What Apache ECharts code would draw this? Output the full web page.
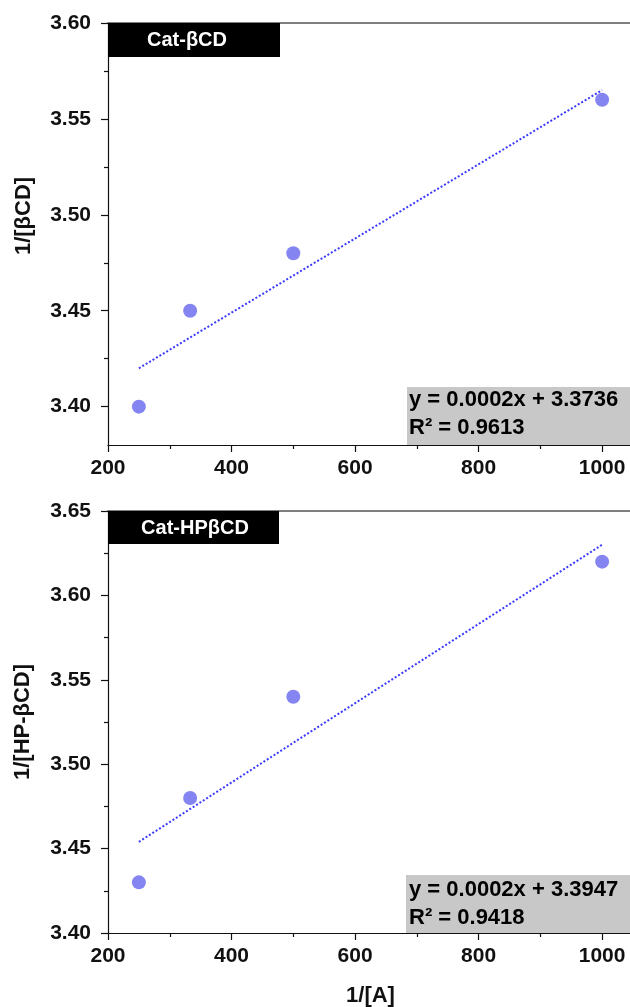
<!DOCTYPE html>
<html>
<head>
<meta charset="utf-8">
<script src="https://cdn.jsdelivr.net/npm/echarts@6/dist/echarts.min.js"></script>
<style>
  html, body { margin: 0; padding: 0; background: #fff; }
  #chart { width: 630px; height: 1007px; }
</style>
</head>
<body>
<div id="chart"></div>
<script>
// data
const xValues = [250, 333, 500, 1000];
const betaCD = [3.40, 3.45, 3.48, 3.56];
const hpBetaCD = [3.43, 3.48, 3.54, 3.62];
// trend line ends (x, y) as drawn
const betaFit = [[250, 3.420], [1000, 3.565]];
const hpFit = [[250, 3.454], [1000, 3.630]];
const topTicks = [3.40, 3.45, 3.50, 3.55, 3.60];
const topMinor = [3.425, 3.475, 3.525, 3.575];
const panelTitles = ['Cat-\u03b2CD', 'Cat-HP\u03b2CD'];
const equations = ['y = 0.0002x + 3.3736\nR\u00b2 = 0.9613', 'y = 0.0002x + 3.3947\nR\u00b2 = 0.9418'];

const FONT = "'Liberation Sans', Arial, sans-serif";
const pointColor = '#8585f2';
const lineColor = '#3a3aff';

const chart = echarts.init(document.getElementById('chart'));

function pairs(ys) {
  return xValues.map((x, i) => [x, ys[i]]);
}

const tickLabel = { fontFamily: FONT, fontWeight: 'bold', fontSize: 21, color: '#111' };

function xAxisBottom(grid) {
  return {
    gridIndex: grid, type: 'value', min: 200, max: 1050, interval: 200,
    axisLine: { lineStyle: { color: '#111', width: 1.2 } },
    axisTick: { inside: false, length: 7, lineStyle: { color: '#111', width: 1.2 } },
    minorTick: { show: true, splitNumber: 2, length: 4, lineStyle: { color: '#111', width: 1.2 } },
    axisLabel: Object.assign({ margin: 13, showMaxLabel: false, formatter: v => String(v) }, tickLabel),
    splitLine: { show: false }
  };
}
function xAxisTop(grid) {
  return {
    gridIndex: grid, type: 'value', position: 'top', min: 200, max: 1050,
    axisLine: { onZero: false, lineStyle: { color: '#555', width: 1.6 } },
    axisTick: { show: false }, axisLabel: { show: false }, splitLine: { show: false }
  };
}

let option = {
  animation: false,
  grid: [
    { left: 108, top: 23, width: 525, height: 422, outerBoundsMode: 'none', containLabel: false },
    { left: 108, top: 511, width: 525, height: 422, outerBoundsMode: 'none', containLabel: false }
  ],
  xAxis: [
    xAxisBottom(0), xAxisTop(0),
    Object.assign(xAxisBottom(1), {
      name: '1/[A]', nameLocation: 'middle', nameGap: 52,
      nameTextStyle: { fontFamily: FONT, fontWeight: 'bold', fontSize: 22, color: '#111' }
    }),
    xAxisTop(1)
  ],
  yAxis: [
    {
      gridIndex: 0, type: 'value', min: 3.38, max: 3.60,
      axisLine: { show: true, lineStyle: { color: '#111', width: 1.2 } },
      axisTick: { show: true, length: 7, customValues: topTicks, lineStyle: { color: '#111', width: 1.2 } },
      axisLabel: Object.assign({ margin: 17, customValues: topTicks, formatter: v => v.toFixed(2) }, tickLabel),
      splitLine: { show: false }
    },
    {
      gridIndex: 0, type: 'value', min: 3.38, max: 3.60, position: 'left',
      axisLine: { show: false },
      axisTick: { show: true, length: 4, customValues: topMinor, lineStyle: { color: '#111', width: 1.2 } },
      axisLabel: { show: false, customValues: topMinor },
      splitLine: { show: false }
    },
    {
      gridIndex: 1, type: 'value', min: 3.40, max: 3.65, interval: 0.05,
      name: '1/[HP-\u03b2CD]', nameLocation: 'middle', nameGap: 74,
      nameTextStyle: { fontFamily: FONT, fontWeight: 'bold', fontSize: 22, color: '#111' },
      axisLine: { show: true, lineStyle: { color: '#111', width: 1.2 } },
      axisTick: { show: true, length: 7, lineStyle: { color: '#111', width: 1.2 } },
      minorTick: { show: true, splitNumber: 2, length: 4, lineStyle: { color: '#111', width: 1.2 } },
      axisLabel: Object.assign({ margin: 17, formatter: v => v.toFixed(2) }, tickLabel),
      splitLine: { show: false }
    }
  ],
  series: [
    {
      type: 'line', xAxisIndex: 0, yAxisIndex: 0, data: betaFit, symbol: 'none',
      lineStyle: { color: lineColor, width: 2, type: [2, 2] }, z: 3
    },
    {
      type: 'scatter', xAxisIndex: 0, yAxisIndex: 0, data: pairs(betaCD),
      symbolSize: 14, itemStyle: { color: pointColor, opacity: 1 }, z: 4
    },
    {
      type: 'line', xAxisIndex: 2, yAxisIndex: 2, data: hpFit, symbol: 'none',
      lineStyle: { color: lineColor, width: 2, type: [2, 2] }, z: 3
    },
    {
      type: 'scatter', xAxisIndex: 2, yAxisIndex: 2, data: pairs(hpBetaCD),
      symbolSize: 14, itemStyle: { color: pointColor, opacity: 1 }, z: 4
    }
  ],
  graphic: [
    // title boxes
    { type: 'rect', shape: { x: 108, y: 23, width: 172, height: 34 }, style: { fill: '#000' }, z: 10 },
    { type: 'text', x: 187, y: 40, style: { text: panelTitles[0], fill: '#fff', font: 'bold 20px ' + FONT, align: 'center', verticalAlign: 'middle' }, z: 11 },
    { type: 'rect', shape: { x: 108, y: 511, width: 171, height: 33 }, style: { fill: '#000' }, z: 10 },
    { type: 'text', x: 195, y: 528, style: { text: panelTitles[1], fill: '#fff', font: 'bold 20px ' + FONT, align: 'center', verticalAlign: 'middle' }, z: 11 },
    // equation boxes
    { type: 'rect', shape: { x: 407, y: 387, width: 230, height: 58 }, style: { fill: '#c8c8c8' }, z: 1 },
    { type: 'text', x: 409, y: 386, style: { text: equations[0], fill: '#000', font: 'bold 22px ' + FONT, lineHeight: 28 }, z: 2 },
    { type: 'rect', shape: { x: 406, y: 875, width: 230, height: 58 }, style: { fill: '#c8c8c8' }, z: 1 },
    { type: 'text', x: 409, y: 876, style: { text: equations[1], fill: '#000', font: 'bold 22px ' + FONT, lineHeight: 28 }, z: 2 },
    // top y name
    { type: 'text', x: 24, y: 216, rotation: Math.PI / 2, style: { text: '1/[\u03b2CD]', fill: '#111', font: 'bold 22px ' + FONT, align: 'center', verticalAlign: 'middle' } }
  ]
};

chart.setOption(option);
</script>
</body>
</html>
